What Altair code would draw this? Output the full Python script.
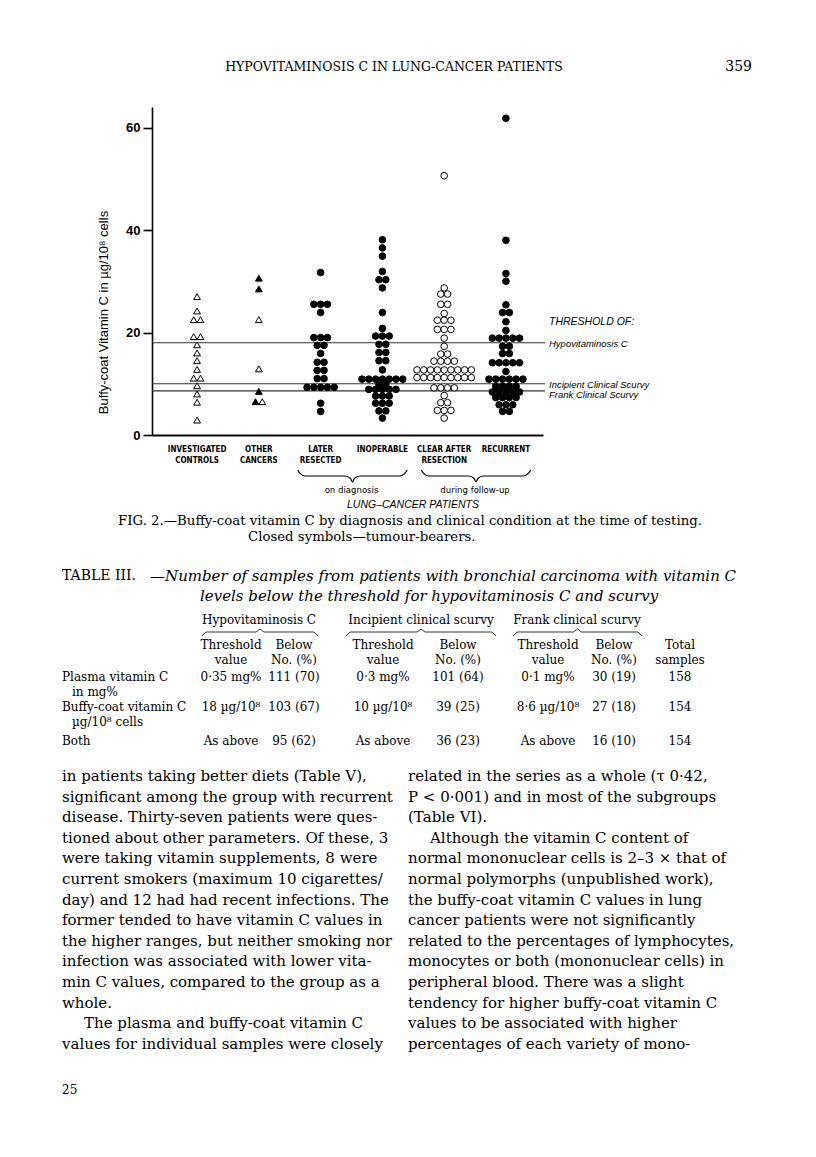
import altair as alt
import pandas as pd

# ---------------- values ----------------
categories = ["INVESTIGATED\nCONTROLS", "OTHER\nCANCERS", "LATER\nRESECTED",
              "INOPERABLE", "CLEAR AFTER\nRESECTION", "RECURRENT"]

controls_open = [27.0, 24.2, 22.5, 22.5, 19.2, 19.2, 17.6, 16.0, 14.5, 12.8,
                 11.1, 11.1, 9.6, 8.0, 6.4, 2.9]
other_closed = [30.6, 28.5, 8.5, 6.5]
other_open = [22.5, 12.9, 6.5]
later_closed = [31.7, 25.5, 25.5, 25.5, 23.9, 19.0, 19.0, 19.0, 17.5, 17.5,
                15.9, 14.2, 14.2, 12.6, 12.6, 11.0, 11.0,
                9.3, 9.3, 9.3, 9.3, 9.3, 6.2, 4.6]
inoperable_closed = [38.1, 36.5, 34.9, 31.9, 30.3, 30.3, 28.7, 23.9, 20.8,
                     19.3, 19.3, 19.3, 17.7, 17.7, 16.1, 16.1, 14.5, 14.5, 12.7,
                     10.9, 10.9, 10.9, 10.9, 10.9, 10.9, 10.9,
                     9.8, 9.8, 8.9, 8.9, 8.9, 8.9, 8.9,
                     7.6, 7.6, 7.6, 6.2, 6.2, 6.2, 4.7, 4.7, 3.3]
clear_open = [50.6, 28.7, 27.5, 27.5, 25.5, 25.5, 23.7, 22.4, 22.4, 22.4,
              20.6, 20.6, 20.6, 18.9, 17.3, 15.8, 15.8,
              14.4, 14.4, 14.4, 14.4,
              12.7, 12.7, 12.7, 12.7, 12.7, 12.7, 12.7, 12.7, 12.7,
              11.2, 11.2, 11.2, 11.2, 11.2, 11.2, 11.2, 11.2, 11.2,
              9.2, 9.2, 9.2, 9.2, 7.7, 6.3, 6.3, 4.8, 4.8, 4.8, 3.3]
recurrent_closed = [61.8, 38.0, 31.5, 30.0, 25.4, 23.9, 23.9, 22.1, 20.4,
                    18.9, 18.9, 18.9, 18.9, 18.9, 17.3, 17.3, 15.9, 15.9,
                    14.1, 14.1, 14.1, 14.1, 14.1, 12.4,
                    10.9, 10.9, 10.9, 10.9, 10.9, 10.9,
                    9.5, 9.5, 9.5, 9.5, 8.4, 8.4, 8.4, 8.4, 8.4,
                    7.3, 7.3, 7.3, 7.3, 5.9, 5.9, 5.9, 4.6, 4.6]

thresholds = [18.0, 10.0, 8.6]
threshold_labels = ["THRESHOLD OF:", "Hypovitaminosis  C",
                    "Incipient Clinical Scurvy", "Frank Clinical Scurvy"]
y_ticks = [0, 20, 40, 60]
y_title = "Buffy-coat Vitamin C in \u00b5g/10\u2078 cells"
brace_labels = ["on diagnosis", "during follow-up"]
group_label = "LUNG\u2013CANCER PATIENTS"

header_title = "HYPOVITAMINOSIS C IN LUNG-CANCER PATIENTS"
page_number = "359"
caption = ["FIG. 2.\u2014Buffy-coat vitamin C by diagnosis and clinical condition at the time of testing.",
           "Closed symbols\u2014tumour-bearers."]
table_head = "TABLE III."
table_title = ["\u2014Number of samples from patients with bronchial carcinoma with vitamin C",
               "levels below the threshold for hypovitaminosis C and scurvy"]
table_groups = ["Hypovitaminosis C", "Incipient clinical scurvy", "Frank  clinical  scurvy"]
table_subheads = ["Threshold\nvalue", "Below\nNo. (%)", "Threshold\nvalue", "Below\nNo. (%)",
                  "Threshold\nvalue", "Below\nNo. (%)", "Total\nsamples"]
table_rowlabels = [["Plasma vitamin C", "in mg%"],
                   ["Buffy-coat vitamin C", "\u00b5g/10\u2078 cells"],
                   ["Both"]]
table_cells = [["0\u00b735 mg%", "111 (70)", "0\u00b73 mg%", "101 (64)", "0\u00b71 mg%", "30 (19)", "158"],
               ["18 \u00b5g/10\u2078", "103 (67)", "10 \u00b5g/10\u2078", "39 (25)", "8\u00b76 \u00b5g/10\u2078", "27 (18)", "154"],
               ["As above", "95 (62)", "As above", "36 (23)", "As above", "16 (10)", "154"]]
left_column = [
    "in patients taking better diets (Table V),",
    "significant among the group with recurrent",
    "disease. Thirty-seven patients were ques-",
    "tioned about other parameters. Of these, 3",
    "were taking vitamin supplements, 8 were",
    "current smokers (maximum 10 cigarettes/",
    "day) and 12 had had recent infections. The",
    "former tended to have vitamin C values in",
    "the higher ranges, but neither smoking nor",
    "infection was associated with lower vita-",
    "min C values, compared to the group as a",
    "whole.",
    "The plasma and buffy-coat vitamin C",
    "values for individual samples were closely",
]
right_column = [
    "related in the series as a whole (\u03c4 0\u00b742,",
    "P < 0\u00b7001) and in most of the subgroups",
    "(Table VI).",
    "Although the vitamin C content of",
    "normal mononuclear cells is 2\u20133 \u00d7 that of",
    "normal polymorphs (unpublished work),",
    "the buffy-coat vitamin C values in lung",
    "cancer patients were not significantly",
    "related to the percentages of lymphocytes,",
    "monocytes or both (mononuclear cells) in",
    "peripheral blood. There was a slight",
    "tendency for higher buffy-coat vitamin C",
    "values to be associated with higher",
    "percentages of each variety of mono-",
]
footer = "25"

# ---------------- layout ----------------
PLOT_W, PLOT_H = 391, 328
ORIGIN_X, ORIGIN_Y = 152, 107          # page position of the plot's top-left corner
X_DOM = [-0.73, 5.6]
Y_DOM = [0, 64]
STEP = 0.110                           # horizontal spacing of stacked symbols


def px2x(px):
    return X_DOM[0] + (px - ORIGIN_X) / PLOT_W * (X_DOM[1] - X_DOM[0])


def py2y(py):
    return Y_DOM[1] - (py - ORIGIN_Y) / PLOT_H * (Y_DOM[1] - Y_DOM[0])


SANS = "Liberation Sans, Arial, Helvetica, sans-serif"
NARROW = "DejaVu Sans Condensed, Liberation Sans Narrow, Arial Narrow, sans-serif"
SERIF = "DejaVu Serif, Century Schoolbook, serif"

XS = alt.Scale(domain=X_DOM, nice=False, zero=False)
YS = alt.Scale(domain=Y_DOM, nice=False, zero=False)
X_ENC = alt.X("x:Q", scale=XS,
              axis=alt.Axis(domain=True, domainColor="black", domainWidth=2,
                            ticks=False, labels=False, grid=False, title=None))
Y_ENC = alt.Y("v:Q", scale=YS,
              axis=alt.Axis(values=y_ticks, grid=False, domainColor="black",
                            domainWidth=1.6, tickColor="black", tickWidth=1.6,
                            tickSize=9, labelFont=SANS, labelFontWeight="bold",
                            labelFontSize=13, labelColor="black", labelPadding=3,
                            title=y_title, titleFont=SANS, titleFontSize=13,
                            titleFontWeight="normal", titleColor="black",
                            titleAngle=270, titleX=-49, titleY=205,
                            titleAlign="center", titleBaseline="middle"))

# ---------------- symbols table ----------------
series = [
    (0, "triangle-up", [], controls_open),
    (1, "triangle-up", other_closed, other_open),
    (2, "circle", later_closed, []),
    (3, "circle", inoperable_closed, []),
    (4, "circle", [], clear_open),
    (5, "circle", recurrent_closed, []),
]
rows = []
for g, shape, closed, opened in series:
    items = [(v, "black") for v in closed] + [(v, "white") for v in opened]
    by_val = {}
    for v, f in items:
        by_val.setdefault(v, []).append(f)
    for v, fills in by_val.items():
        n = len(fills)
        for k, f in enumerate(fills):
            rows.append({"x": g + (k - (n - 1) / 2) * STEP, "v": v,
                         "shape": shape, "fill": f})
pts = pd.DataFrame(rows)

points = alt.Chart(pts).mark_point(filled=True, stroke="black", strokeWidth=1,
                                   opacity=1).encode(
    x=X_ENC, y=Y_ENC,
    shape=alt.Shape("shape:N", scale=None),
    fill=alt.Fill("fill:N", scale=None),
    size=alt.condition("datum.shape == 'circle'", alt.value(44), alt.value(46)),
)

# threshold lines
thr = pd.DataFrame({"v": thresholds})
thr_lines = alt.Chart(thr).mark_rule(color="#333333", strokeWidth=1.1).encode(
    y=Y_ENC, x=alt.value(0), x2=alt.value(PLOT_W + 2))


def text_layer(items, **style):
    df = pd.DataFrame({"t": [i[0] for i in items],
                       "x": [px2x(i[1]) for i in items],
                       "v": [py2y(i[2]) for i in items]})
    base = dict(color="black", baseline="middle", lineBreak="\n")
    base.update(style)
    return alt.Chart(df).mark_text(**base).encode(x=X_ENC, y=Y_ENC, text="t:N")


# threshold labels
thr_text_pos = [(549, 322), (549, 344), (549, 384.5), (549, 395)]
thr_title = text_layer([(threshold_labels[0],) + thr_text_pos[0]],
                       font=SANS, fontSize=10.5, fontStyle="italic", align="left")
thr_names = text_layer([(threshold_labels[i],) + thr_text_pos[i] for i in range(1, 4)],
                       font=SANS, fontSize=9.5, fontStyle="italic", align="left")

# category labels (x positions from the x scale)
cat_df = pd.DataFrame({"t": categories, "x": list(range(len(categories))),
                       "v": [py2y(446)] * len(categories)})
cat_text = alt.Chart(cat_df).mark_text(
    font=NARROW, fontSize=8, fontWeight="bold", color="black", baseline="top",
    lineBreak="\n", lineHeight=11).encode(x=X_ENC, y=Y_ENC, text="t:N")

# braces under the lung-cancer groups
brace_spans = [(2, 3), (4, 5)]
brace_rows = []
for b, (g0, g1) in enumerate(brace_spans):
    x0 = g0 - 0.37
    x1 = g1 + 0.40
    xm = (x0 + x1) / 2
    ytop, ymid, ytip = py2y(470), py2y(476), py2y(482)
    path = [(x0, ytop), (x0 + 0.03, ymid + 0.6), (x0 + 0.12, ymid),
            (xm - 0.12, ymid), (xm - 0.03, ymid - 0.5), (xm, ytip),
            (xm + 0.03, ymid - 0.5), (xm + 0.12, ymid),
            (x1 - 0.12, ymid), (x1 - 0.03, ymid + 0.6), (x1, ytop)]
    for i, (xx, yy) in enumerate(path):
        brace_rows.append({"b": b, "i": i, "x": xx, "v": yy})
braces = alt.Chart(pd.DataFrame(brace_rows)).mark_line(
    color="black", strokeWidth=1.2, interpolate="monotone").encode(
    x=X_ENC, y=Y_ENC, detail="b:N", order="i:Q")

brace_df = pd.DataFrame({"t": brace_labels,
                         "x": [(g0 + g1) / 2 for g0, g1 in brace_spans],
                         "v": [py2y(490)] * 2})
brace_text = alt.Chart(brace_df).mark_text(
    font=NARROW, fontSize=9.5, color="black", baseline="middle").encode(
    x=X_ENC, y=Y_ENC, text="t:N")
lung_text = text_layer([(group_label, 413, 505)], font=SANS, fontSize=10.5,
                       fontStyle="italic", align="center")

# ---------------- page text ----------------
head1 = text_layer([(header_title, 394, 67)], font=SERIF, fontSize=12.5, align="center")
head2 = text_layer([(page_number, 752, 67)], font=SERIF, fontSize=14, align="right")
cap1 = text_layer([(caption[0], 118, 521)], font=SERIF, fontSize=13.3, align="left")
cap2 = text_layer([(caption[1], 248, 537)], font=SERIF, fontSize=13.3, align="left")

tab_head = text_layer([(table_head, 62, 576)], font=SERIF, fontSize=14, align="left")
tab_title = text_layer([(table_title[0], 150, 576), (table_title[1], 200, 596)],
                       font=SERIF, fontSize=15, fontStyle="italic", align="left")
grp_x = [259, 421, 577]
tab_groups = text_layer([(table_groups[i], grp_x[i], 620) for i in range(3)],
                        font=SERIF, fontSize=12, align="center")
col_x = [231, 294, 383, 458, 548, 614, 680]
tab_sub = text_layer([(table_subheads[i], col_x[i], 645) for i in range(7)],
                     font=SERIF, fontSize=12, align="center", lineHeight=15,
                     baseline="middle")
row_y = [677, 707, 741]
lab_items = []
for r, labs in enumerate(table_rowlabels):
    for j, lab in enumerate(labs):
        lab_items.append((lab, 62 if j == 0 else 72, row_y[r] + 15 * j))
tab_labels = text_layer(lab_items, font=SERIF, fontSize=12, align="left")
cell_items = [(table_cells[r][c], col_x[c], row_y[r]) for r in range(3) for c in range(7)]
tab_cells = text_layer(cell_items, font=SERIF, fontSize=12, align="center")

# small braces under the table group headings
tb_rows = []
tb_spans = [(202, 318), (346, 496), (513, 642)]
for b, (a0, a1) in enumerate(tb_spans):
    am = (a0 + a1) / 2
    path = [(a0, 636), (a0 + 4, 632), (am - 4, 632), (am, 629), (am + 4, 632),
            (a1 - 4, 632), (a1, 636)]
    for i, (xx, yy) in enumerate(path):
        tb_rows.append({"b": b, "i": i, "x": px2x(xx), "v": py2y(yy)})
tab_braces = alt.Chart(pd.DataFrame(tb_rows)).mark_line(
    color="black", strokeWidth=0.8).encode(x=X_ENC, y=Y_ENC, detail="b:N", order="i:Q")

LINE0, LINE_STEP = 776, 20.6
indent_left = {12}
indent_right = {3}
body_items = []
for i, line in enumerate(left_column):
    body_items.append((line, 62 + (22 if i in indent_left else 0), LINE0 + i * LINE_STEP))
for i, line in enumerate(right_column):
    body_items.append((line, 408 + (22 if i in indent_right else 0), LINE0 + i * LINE_STEP))
body = text_layer(body_items, font=SERIF, fontSize=15, align="left")
foot = text_layer([(footer, 62, 1090)], font=SERIF, fontSize=12, align="left")

chart = alt.layer(
    thr_lines, points, braces, cat_text, brace_text, lung_text,
    thr_title, thr_names, head1, head2, cap1, cap2, tab_head, tab_title,
    tab_groups, tab_sub, tab_labels, tab_cells, tab_braces, body, foot,
).properties(
    width=PLOT_W, height=PLOT_H,
    padding={"left": ORIGIN_X - 8, "top": ORIGIN_Y - 8,
             "right": 790 - (ORIGIN_X - 8) - PLOT_W,
             "bottom": 1100 - (ORIGIN_Y - 8) - PLOT_H},
    autosize=alt.AutoSizeParams(type="none"),
    background="white",
).configure_view(stroke=None)

chart.save("out.html", embed_options={"renderer": "svg", "actions": False})
